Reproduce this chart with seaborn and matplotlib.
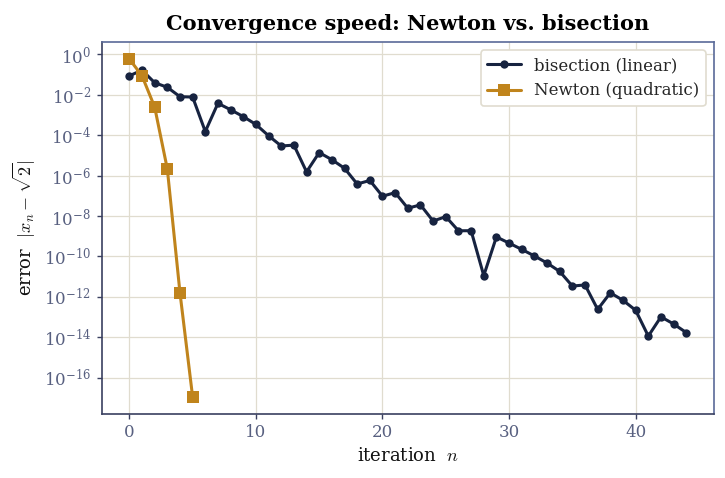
import numpy as np
import pandas as pd
import matplotlib
matplotlib.use('Agg')
import matplotlib.pyplot as plt
import seaborn as sns

# 误差数据
bisect_n = list(range(45))
bisect_err = [
    8.58e-2, 1.64e-1, 3.92e-2, 2.33e-2, 7.96e-3, 7.66e-3, 1.51e-4, 3.76e-3,
    1.80e-3, 8.26e-4, 3.37e-4, 9.31e-5, 2.90e-5, 3.20e-5, 1.53e-6, 1.37e-5,
    6.10e-6, 2.29e-6, 3.82e-7, 5.72e-7, 9.50e-8, 1.43e-7, 2.42e-8, 3.54e-8,
    5.60e-9, 9.30e-9, 1.85e-9, 1.87e-9, 1.12e-11, 9.20e-10, 4.55e-10, 2.22e-10,
    1.05e-10, 4.71e-11, 1.80e-11, 3.40e-12, 3.88e-12, 2.39e-13, 1.58e-12, 6.71e-13,
    2.16e-13, 1.14e-14, 1.02e-13, 4.54e-14, 1.70e-14,
]
newton_n = [0, 1, 2, 3, 4, 5]
newton_err = [5.86e-1, 8.58e-2, 2.45e-3, 2.12e-6, 1.59e-12, 1.1e-17]

labels = ['bisection (linear)', 'Newton (quadratic)']

df = pd.concat([
    pd.DataFrame({'n': bisect_n, 'err': bisect_err, 'method': labels[0]}),
    pd.DataFrame({'n': newton_n, 'err': newton_err, 'method': labels[1]}),
])

sns.set_theme(style='whitegrid')
plt.rcParams['font.family'] = ['DejaVu Serif']
plt.rcParams['mathtext.fontset'] = 'cm'

navy = '#172340'
gold = '#c0841c'
tick_c = '#586080'
spine_c = '#3a4060'

fig, ax = plt.subplots(figsize=(7.25, 4.78), dpi=100)
sns.lineplot(data=df, x='n', y='err', hue='method', style='method',
             palette=[navy, gold], markers=['o', 's'], dashes=False,
             linewidth=2.2, markersize=6, markeredgewidth=0, ax=ax)
# Newton 的方块标记大一些
for line in ax.lines:
    if line.get_marker() == 's':
        line.set_markersize(8)

ax.set_yscale('log')
ax.set_yticks([10.0 ** k for k in range(0, -17, -2)])
ax.yaxis.set_minor_locator(matplotlib.ticker.NullLocator())

ax.grid(True, color='#e0dccf', linewidth=0.9)
ax.set_facecolor('white')
for side in ['left', 'bottom']:
    ax.spines[side].set_color(spine_c)
for side in ['top', 'right']:
    ax.spines[side].set_color('#5a6a98')
for s in ax.spines.values():
    s.set_linewidth(1.2)

ax.tick_params(axis='both', which='major', labelsize=12, labelcolor=tick_c,
               color=spine_c, length=3.5, width=1, pad=4, bottom=True, left=True)
ax.set_xlabel('iteration  $n$', fontsize=13, color='#111111')
ax.set_ylabel(r'error  $|x_n - \sqrt{2}|$', fontsize=13, color='#111111')
ax.set_title('Convergence speed: Newton vs. bisection', fontsize=15,
             fontweight='bold', color='black', pad=9)

leg = ax.legend(title=None, loc='upper right', fontsize=12, frameon=True,
                edgecolor='#e0dccf', framealpha=1.0)
leg.get_frame().set_linewidth(1.2)

fig.subplots_adjust(left=0.14, right=0.985, top=0.912, bottom=0.134)
fig.savefig('out.png', dpi=100)
